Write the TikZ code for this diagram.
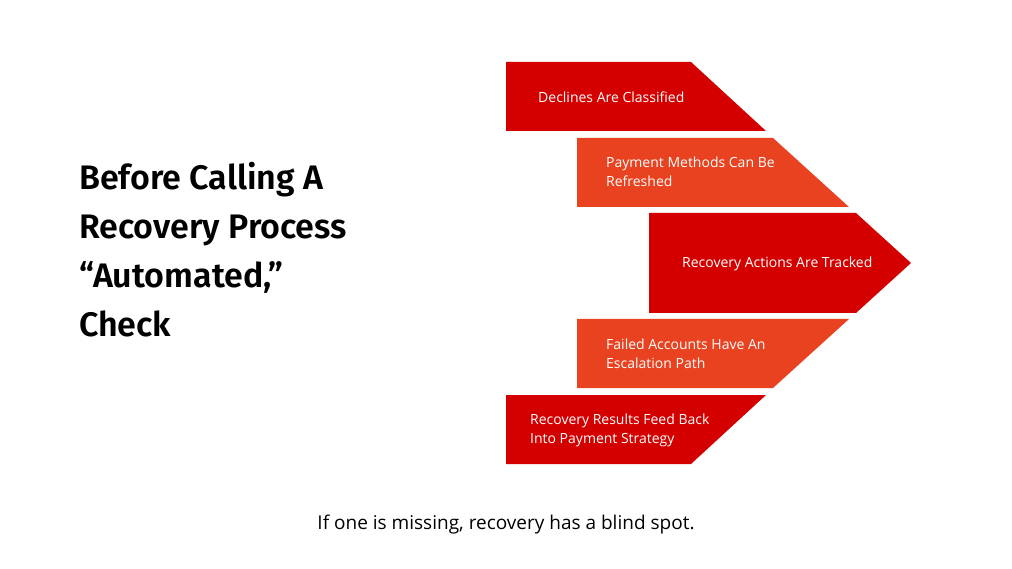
\documentclass[tikz,border=0pt]{standalone}
\usepackage{fontspec}
\setmainfont{Open Sans}
\newfontfamily\titlefont{Fira Sans SemiBold}
\definecolor{darkred}{HTML}{D40000}
\definecolor{orangered}{HTML}{E84220}
\begin{document}
\begin{tikzpicture}[x=1pt,y=-1pt,
  lbl/.style={anchor=west,align=left,text=white,font=\fontsize{14}{19}\selectfont,inner sep=0pt}]
\useasboundingbox[fill=white] (0,0) rectangle (1012,569);
\node[anchor=north west,align=left,inner sep=0pt,font=\titlefont\fontsize{34}{49}\selectfont] (title) at (79,162) {Before Calling A\\Recovery Process\\“Automated,”\\Check};
\fill[darkred] (506,62) -- (691,62) -- (766,131) -- (506,131) -- cycle;
\fill[orangered] (577,138) -- (773,138) -- (849,207) -- (577,207) -- cycle;
\fill[darkred] (649,213) -- (856,213) -- (911,263) -- (856,313) -- (649,313) -- cycle;
\fill[orangered] (577,319) -- (849,319) -- (773,388) -- (577,388) -- cycle;
\fill[darkred] (506,395) -- (766,395) -- (691,464) -- (506,464) -- cycle;
\node[lbl] (a) at (538,97) {Declines Are Classified};
\node[lbl] (b) at (606,172) {Payment Methods Can Be\\Refreshed};
\node[lbl] (c) at (682,264) {Recovery Actions Are Tracked};
\node[lbl] (d) at (606,354) {Failed Accounts Have An\\Escalation Path};
\node[lbl] (e) at (530,430) {Recovery Results Feed Back\\Into Payment Strategy};
\node[font=\fontsize{19}{23}\selectfont,inner sep=0pt] (f) at (506,525) {If one is missing, recovery has a blind spot.};
\end{tikzpicture}
\end{document}
